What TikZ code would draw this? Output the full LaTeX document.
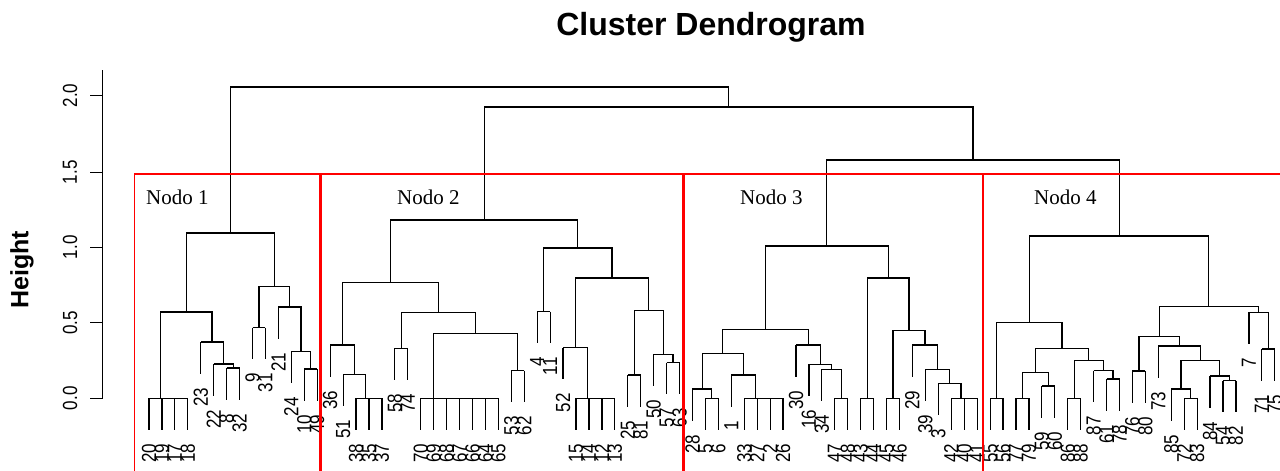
\documentclass[tikz,border=0pt]{standalone}
\usepackage{fontspec}
\setmainfont{Liberation Sans}
\newfontfamily\nodofont{Liberation Serif}
\usepackage{tikz}
\usetikzlibrary{calc}

% one merge of the dendrogram: name, left child, right child, height (px)
\newcommand{\merge}[4]{%
  \coordinate (tmp) at ($(#2)!0.5!(#3)$);
  \coordinate (#1) at (tmp |- 0,#4);
  \draw[branch] (#2) |- (#1) -| (#3);
}

\begin{document}
\begin{tikzpicture}[x=1pt,y=-1pt,
  branch/.style={line width=1.2pt,black},
  leaflab/.style={font=\fontsize{17}{17}\selectfont,xscale=1.2,rotate=90,anchor=east,inner sep=0pt},
  ticklab/.style={font=\fontsize{17}{17}\selectfont,xscale=1.2,rotate=90,inner sep=0pt},
  nodolab/.style={font=\nodofont\fontsize{21}{21}\selectfont,anchor=base west,inner sep=0pt},
  nodobox/.style={draw=red,line width=1.3pt}]
\useasboundingbox (0,0) rectangle (1280,471);

% Title and axis
\node[font=\bfseries\fontsize{32}{32}\selectfont] (title) at (711,27) {Cluster Dendrogram};
\node[font=\bfseries\fontsize{25}{25}\selectfont,rotate=90] (ylab) at (22,270) {Height};
\draw[branch] (102.7,70) -- (102.7,398.3);
\foreach \v/\y in {0.0/398.3,0.5/322.7,1.0/247.3,1.5/172.3,2.0/95.5}{
  \draw[branch] (90,\y) -- (102.7,\y);
  \node[ticklab] at (70,\y) {\v};
}

% Leaves: index / label / height of parent merge
\foreach \i/\lab/\py in {
  0/20/398.3, 1/19/398.3, 2/17/398.3, 3/18/398.3, 4/23/342, 5/22/364, 6/8/368,
  7/32/368, 8/9/327.7, 9/31/327.7, 10/21/307, 11/24/351.7, 12/10/369, 13/49/369,
  14/36/345, 15/51/374.3, 16/38/398.3, 17/35/398.3, 18/37/398.3, 19/58/348.3,
  20/74/348.3, 21/70/398.3, 22/69/398.3, 23/68/398.3, 24/67/398.3, 25/66/398.3,
  26/64/398.3, 27/65/398.3, 28/53/370.7, 29/62/370.7, 30/4/311.7, 31/11/311.7,
  32/52/347.7, 33/15/398.3, 34/14/398.3, 35/12/398.3, 36/13/398.3, 37/25/375,
  38/81/375, 39/50/354.3, 40/57/362.7, 41/63/362.7,
  42/28/389, 43/5/398.3, 44/6/398.3, 45/1/375, 46/33/398.3, 47/27/398.3,
  48/2/398.3, 49/26/398.3, 50/30/345, 51/16/364.3, 52/34/369.3, 53/47/398.3,
  54/48/398.3, 55/43/398.3, 56/44/398.3, 57/45/398.3, 58/46/398.3, 59/29/345,
  60/39/369.3, 61/3/383.3, 62/42/398.3, 63/40/398.3, 64/41/398.3,
  65/55/398.3, 66/56/398.3, 67/77/398.3, 68/79/398.3, 69/59/386, 70/60/386,
  71/86/398.3, 72/88/398.3, 73/87/370.7, 74/61/379, 75/78/379, 76/76/371,
  77/80/371, 78/73/346, 79/85/389, 80/72/398.3, 81/83/398.3, 82/84/376,
  83/54/380.7, 84/82/380.7, 85/7/312.3, 86/71/349, 87/75/349}{
  \coordinate (l\i) at ({149+12.94*\i},\py);
  \draw[branch] (l\i) -- ++(0,31.5) coordinate (e\i);
  \node[leaflab] (t\i) at ($(e\i)+(0,14)$) {\lab};
}

% Nodo 1
\merge{a1}{l2}{l3}{398.3}
\merge{a2}{l1}{a1}{398.3}
\merge{a3}{l0}{a2}{398.3}
\merge{a4}{l6}{l7}{368}
\merge{a5}{l5}{a4}{364}
\merge{a6}{l4}{a5}{342}
\merge{a7}{a3}{a6}{312}
\merge{a8}{l8}{l9}{327.7}
\merge{a9}{l12}{l13}{369}
\merge{a10}{l11}{a9}{351.7}
\merge{a11}{l10}{a10}{307}
\merge{a12}{a8}{a11}{286.7}
\merge{n1}{a7}{a12}{233}

% Nodo 2
\merge{b1}{l17}{l18}{398.3}
\merge{b2}{l16}{b1}{398.3}
\merge{b3}{l15}{b2}{374.3}
\merge{b4}{l14}{b3}{345}
\merge{b5}{l19}{l20}{348.3}
\merge{b6}{l26}{l27}{398.3}
\merge{b7}{l25}{b6}{398.3}
\merge{b8}{l24}{b7}{398.3}
\merge{b9}{l23}{b8}{398.3}
\merge{b10}{l22}{b9}{398.3}
\merge{b11}{l21}{b10}{398.3}
\merge{b12}{l28}{l29}{370.7}
\merge{b13}{b11}{b12}{333.3}
\merge{b14}{b5}{b13}{312.7}
\merge{b15}{b4}{b14}{282.7}
\merge{b16}{l30}{l31}{311.7}
\merge{b17}{l35}{l36}{398.3}
\merge{b18}{l34}{b17}{398.3}
\merge{b19}{l33}{b18}{398.3}
\merge{b20}{l32}{b19}{347.7}
\merge{b21}{l37}{l38}{375}
\merge{b22}{l40}{l41}{362.7}
\merge{b23}{l39}{b22}{354.3}
\merge{b24}{b21}{b23}{310.7}
\merge{b25}{b20}{b24}{278}
\merge{b26}{b16}{b25}{248}
\merge{n2}{b15}{b26}{220}

% Nodo 3
\merge{c1}{l43}{l44}{398.3}
\merge{c2}{l42}{c1}{389}
\merge{c3}{l48}{l49}{398.3}
\merge{c4}{l47}{c3}{398.3}
\merge{c5}{l46}{c4}{398.3}
\merge{c6}{l45}{c5}{375}
\merge{c7}{c2}{c6}{353.3}
\merge{c8}{l53}{l54}{398.3}
\merge{c9}{l52}{c8}{369.3}
\merge{c10}{l51}{c9}{364.3}
\merge{c11}{l50}{c10}{345}
\merge{c12}{c7}{c11}{329.3}
\merge{c13}{l55}{l56}{398.3}
\merge{c14}{l57}{l58}{398.3}
\merge{c15}{l63}{l64}{398.3}
\merge{c16}{l62}{c15}{398.3}
\merge{c17}{l61}{c16}{383.3}
\merge{c18}{l60}{c17}{369.3}
\merge{c19}{l59}{c18}{345}
\merge{c20}{c14}{c19}{330.7}
\merge{c21}{c13}{c20}{278}
\merge{n3}{c12}{c21}{246}

% Nodo 4
\merge{d1}{l65}{l66}{398.3}
\merge{d2}{l67}{l68}{398.3}
\merge{d3}{l69}{l70}{386}
\merge{d4}{d2}{d3}{372.7}
\merge{d5}{l71}{l72}{398.3}
\merge{d6}{l74}{l75}{379}
\merge{d7}{l73}{d6}{370.7}
\merge{d8}{d5}{d7}{360.7}
\merge{d9}{d4}{d8}{348.3}
\merge{d10}{d1}{d9}{322.7}
\merge{d11}{l76}{l77}{371}
\merge{d12}{l80}{l81}{398.3}
\merge{d13}{l79}{d12}{389}
\merge{d14}{l83}{l84}{380.7}
\merge{d15}{l82}{d14}{376}
\merge{d16}{d13}{d15}{360.7}
\merge{d17}{l78}{d16}{346}
\merge{d18}{d11}{d17}{336.7}
\merge{d19}{l86}{l87}{349}
\merge{d20}{l85}{d19}{312.3}
\merge{d21}{d18}{d20}{306.7}
\merge{n4}{d10}{d21}{236}

% Top of the tree
\merge{e1}{n3}{n4}{160}
\merge{e2}{n2}{e1}{107}
\merge{root}{n1}{e2}{87}

% Clusters
\draw[nodobox] (134.3,174) rectangle (320,480);
\draw[nodobox] (321.5,174) rectangle (682.5,480);
\draw[nodobox] (684,174) rectangle (982.3,480);
\draw[nodobox] (983.8,174) rectangle (1285,480);
\node[nodolab] (k1) at (146,204) {Nodo 1};
\node[nodolab] (k2) at (397,204) {Nodo 2};
\node[nodolab] (k3) at (740,204) {Nodo 3};
\node[nodolab] (k4) at (1034,204) {Nodo 4};
\end{tikzpicture}
\end{document}
